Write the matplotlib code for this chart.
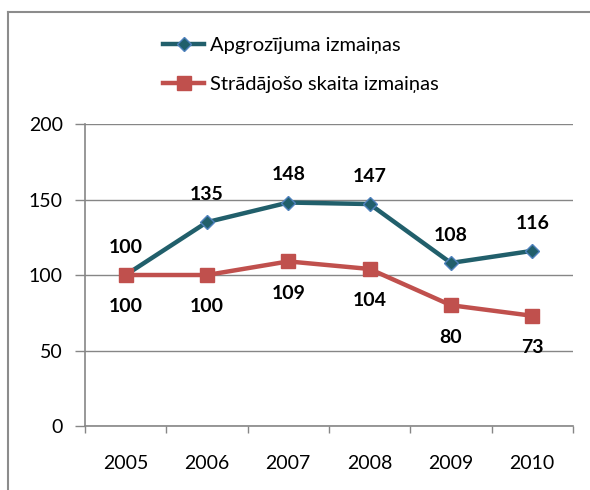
import matplotlib.pyplot as plt
from matplotlib.lines import Line2D
from matplotlib.ticker import FixedLocator

# dati
years = ['2005', '2006', '2007', '2008', '2009', '2010']
apgrozijums = [100, 135, 148, 147, 108, 116]
stradajosie = [100, 100, 109, 104, 80, 73]
y_ticks = [0, 50, 100, 150, 200]

plt.rcParams['font.family'] = ['Lato', 'DejaVu Sans']

fig = plt.figure(figsize=(5.9, 4.9), dpi=100)
ax = fig.add_axes([0.144, 0.1306, 0.827, 0.6163])

x = list(range(len(years)))
teal = '#215f6b'
red = '#c0504d'

ax.plot(x, apgrozijums, color=teal, lw=3.2, marker='D', markersize=7,
        markerfacecolor=teal, markeredgecolor='#4f81bd', markeredgewidth=1,
        label='Apgrozījuma izmaiņas', zorder=3)
ax.plot(x, stradajosie, color=red, lw=3.2, marker='s', markersize=10.5,
        markerfacecolor=red, markeredgecolor=red,
        label='Strādājošo skaita izmaiņas', zorder=3)

# datu etiķetes
for xi, v in zip(x, apgrozijums):
    ax.annotate(str(v), (xi, v), xytext=(0, 20), textcoords='offset points',
                ha='center', va='center', fontsize=14, fontweight='bold')
for xi, v in zip(x, stradajosie):
    ax.annotate(str(v), (xi, v), xytext=(0, -23), textcoords='offset points',
                ha='center', va='center', fontsize=14, fontweight='bold')

ax.set_xlim(-0.5, len(years) - 0.5)
ax.set_ylim(0, 200)
ax.set_yticks(y_ticks)
ax.set_xticks(x)
ax.set_xticklabels(years)
ax.xaxis.set_minor_locator(FixedLocator([i - 0.5 for i in range(len(years) + 1)]))

ax.tick_params(axis='y', labelsize=14, length=7, width=1, color='#868686', pad=9)
ax.tick_params(axis='x', which='major', labelsize=14, length=0, pad=21)
ax.tick_params(axis='x', which='minor', length=5, width=1, color='#868686')

ax.yaxis.grid(True, color='#868686', lw=1)
ax.set_axisbelow(True)
for s in ['top', 'right']:
    ax.spines[s].set_visible(False)
for s in ['left', 'bottom']:
    ax.spines[s].set_color('#868686')
    ax.spines[s].set_linewidth(1.2)

fig.legend(loc='center', bbox_to_anchor=(0.51, 0.868), frameon=False,
           fontsize=14.5, handlelength=2.0, labelspacing=1.1, handletextpad=0.3)

# rāmis
bc = '#8c8c8c'
fig.add_artist(Line2D([8 / 590, 8 / 590], [0, 1 - 12 / 490], color=bc, lw=1.5,
                      transform=fig.transFigure))
fig.add_artist(Line2D([8 / 590, 1], [1 - 12 / 490, 1 - 12 / 490], color=bc, lw=1.5,
                      transform=fig.transFigure))

fig.savefig('out.png', dpi=100)
